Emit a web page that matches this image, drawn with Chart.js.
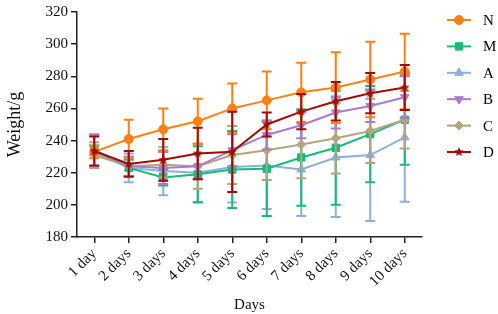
<!DOCTYPE html>
<html>
<head>
<meta charset="utf-8">
<script src="https://cdn.jsdelivr.net/npm/chart.js@4.4.1/dist/chart.umd.min.js"></script>
<style>
  html, body { margin: 0; padding: 0; background: #fff; }
  #wrap { width: 498px; height: 314px; position: relative; }
</style>
</head>
<body>
<div id="wrap"><canvas id="grafico"></canvas></div>
<script>
// datos
const dias = ["1 day", "2 days", "3 days", "4 days", "5 days", "6 days", "7 days", "8 days", "9 days", "10 days"];

const nMedia = [233, 241, 247, 252, 260, 265, 270, 273, 278, 283];
const nError = [4, 12, 13, 14, 15.5, 18, 18.5, 22, 23.5, 23.5];

const mMedia = [234, 223, 217, 219, 222, 222.5, 229.5, 235.5, 244, 253];
const mError = [3, 5, 5, 17.5, 24, 29.5, 30, 35.5, 30, 28];

const aMedia = [233, 223, 221, 220, 223.5, 224.5, 222, 229.5, 231, 242];
const aError = [10, 9, 15, 18, 22, 27, 29, 37, 41, 40];

const bMedia = [234, 224, 223, 224, 234, 243.5, 249.5, 257.5, 261.5, 267];
const bError = [10, 6, 10, 8, 10, 9, 8, 10, 10, 13];

const cMedia = [231, 224, 225, 224, 231, 234, 237.5, 241.5, 246, 253];
const cError = [8, 6, 8, 14, 18, 18.5, 21, 22, 20, 18];

const dMedia = [233.5, 225.5, 228, 232, 233, 250, 258, 264.5, 269.5, 273];
const dError = [9, 8, 13, 16, 25, 7.5, 11, 12, 12.5, 14];

const yTicks = [180, 200, 220, 240, 260, 280, 300, 320];

const fuente = "'Liberation Serif', 'DejaVu Serif', serif";

// estrella rellena para la serie D
function crearEstrella(color, r) {
  const c = document.createElement("canvas");
  c.width = r * 2 + 2;
  c.height = r * 2 + 2;
  const g = c.getContext("2d");
  g.fillStyle = color;
  g.beginPath();
  for (let k = 0; k < 10; k++) {
    const rad = k % 2 === 0 ? r : r * 0.45;
    const ang = -Math.PI / 2 + k * Math.PI / 5;
    const px = c.width / 2 + rad * Math.cos(ang);
    const py = c.height / 2 + rad * Math.sin(ang);
    if (k === 0) g.moveTo(px, py); else g.lineTo(px, py);
  }
  g.closePath();
  g.fill();
  return c;
}

function serie(label, data, errores, color, estilo, radio, extra) {
  return Object.assign({
    label: label,
    data: data,
    errores: errores,
    borderColor: color,
    backgroundColor: color,
    borderWidth: 2,
    pointStyle: estilo,
    pointRadius: radio,
    pointHoverRadius: radio,
    pointBorderWidth: 1,
    tension: 0,
    fill: false
  }, extra || {});
}

const series = [
  serie("N", nMedia, nError, "#FF8113", "circle", 4.5, { order: 1 }),
  serie("M", mMedia, mError, "#14BC78", "rect", 5.2, { order: 5 }),
  serie("A", aMedia, aError, "#8EAEDF", "triangle", 5, { order: 6 }),
  serie("B", bMedia, bError, "#A97BD0", "triangle", 5, { order: 3, pointRotation: 180 }),
  serie("C", cMedia, cError, "#B3A67C", "rectRot", 4.5, { order: 4 }),
  serie("D", dMedia, dError, "#A40A0A", crearEstrella("#A40A0A", 5), 5, { order: 0 })
];

// barras de error dibujadas con la escala y
const barrasError = {
  id: "barrasError",
  beforeDatasetDraw(chart, args) {
    const ds = chart.data.datasets[args.index];
    if (!ds.errores) return;
    const escY = chart.scales.y;
    const ctx = chart.ctx;
    ctx.save();
    ctx.strokeStyle = ds.borderColor;
    ctx.lineWidth = 2;
    args.meta.data.forEach((pt, i) => {
      const v = ds.data[i];
      const e = ds.errores[i];
      const yArriba = escY.getPixelForValue(v + e);
      const yAbajo = escY.getPixelForValue(v - e);
      ctx.beginPath();
      ctx.moveTo(pt.x, yArriba);
      ctx.lineTo(pt.x, yAbajo);
      ctx.moveTo(pt.x - 5, yArriba);
      ctx.lineTo(pt.x + 5, yArriba);
      ctx.moveTo(pt.x - 5, yAbajo);
      ctx.lineTo(pt.x + 5, yAbajo);
      ctx.stroke();
    });
    ctx.restore();
  }
};

// leyenda a la derecha: línea + marcador + texto
const leyenda = {
  id: "leyenda",
  afterDraw(chart) {
    const ctx = chart.ctx;
    const x0 = 447, x1 = 471, xt = 483;
    ctx.save();
    chart.data.datasets.forEach((ds, i) => {
      const y = 20 + i * 26.4;
      ctx.strokeStyle = ds.borderColor;
      ctx.lineWidth = 2;
      ctx.beginPath();
      ctx.moveTo(x0, y);
      ctx.lineTo(x1, y);
      ctx.stroke();
      ctx.fillStyle = ds.backgroundColor;
      ctx.strokeStyle = ds.borderColor;
      ctx.lineWidth = 1;
      Chart.helpers.drawPoint(ctx, {
        pointStyle: ds.pointStyle,
        radius: ds.pointRadius,
        rotation: ds.pointRotation || 0,
        borderWidth: 1
      }, (x0 + x1) / 2, y);
      ctx.fillStyle = "#000";
      ctx.font = "15px " + fuente;
      ctx.textAlign = "left";
      ctx.textBaseline = "middle";
      ctx.fillText(ds.label, xt, y + 1);
    });
    ctx.restore();
  }
};

const canvas = document.getElementById("grafico");
new Chart(canvas, {
  type: "line",
  data: { labels: dias, datasets: series },
  options: {
    responsive: true,
    maintainAspectRatio: false,
    animation: false,
    layout: { padding: { top: 7, right: 76, left: 0, bottom: 0 } },
    plugins: {
      legend: { display: false },
      tooltip: { enabled: false }
    },
    scales: {
      x: {
        type: "category",
        offset: true,
        grid: { display: true, drawOnChartArea: false, drawTicks: true, tickLength: 6, color: "#222", lineWidth: 1.5, offset: false },
        border: { display: true, color: "#222", width: 1.5 },
        ticks: {
          autoSkip: false,
          maxRotation: 45,
          minRotation: 45,
          padding: 2,
          color: "#111",
          font: { family: fuente, size: 15 }
        },
        title: {
          display: true,
          text: "Days",
          color: "#111",
          font: { family: fuente, size: 15 },
          padding: { top: 0, bottom: 0 }
        },
        afterFit(scale) { scale.height = 77; }
      },
      y: {
        min: 180,
        max: 320,
        afterBuildTicks(scale) { scale.ticks = yTicks.map(v => ({ value: v })); },
        grid: { display: true, drawOnChartArea: false, drawTicks: true, tickLength: 6, color: "#222", lineWidth: 1.5 },
        border: { display: true, color: "#222", width: 1.5 },
        ticks: {
          padding: 3,
          color: "#111",
          font: { family: fuente, size: 15 }
        },
        title: {
          display: true,
          text: "Weight/g",
          color: "#111",
          font: { family: fuente, size: 18 },
          padding: { top: 4, bottom: 0 }
        },
        afterFit(scale) { scale.width = 77; }
      }
    }
  },
  plugins: [barrasError, leyenda]
});
</script>
</body>
</html>
